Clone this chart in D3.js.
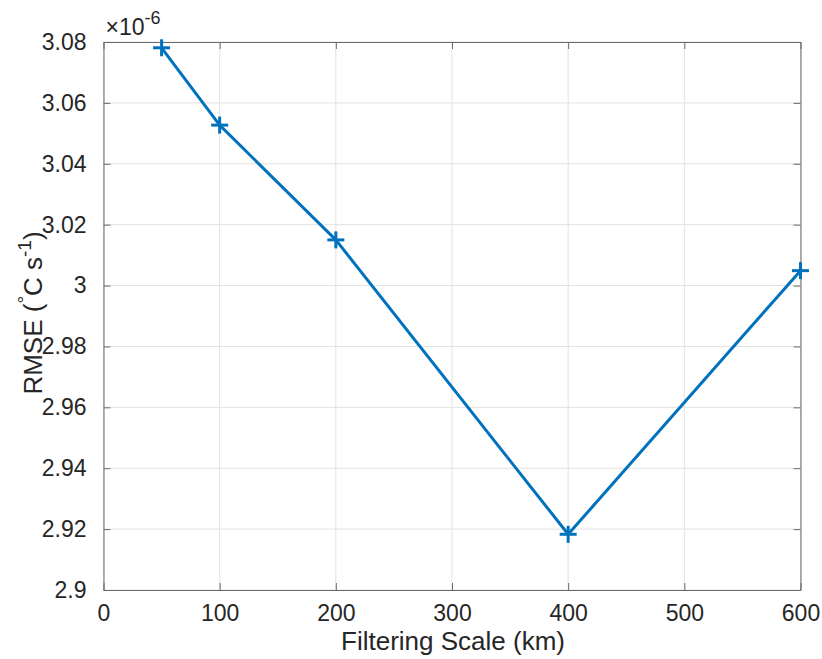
<!DOCTYPE html>
<html>
<head>
<meta charset="utf-8">
<script src="https://d3js.org/d3.v7.min.js"></script>
<style>
  html, body { margin: 0; padding: 0; background: #fff; }
  svg { display: block; }
  text { font-family: "Liberation Sans", Arial, Helvetica, sans-serif; fill: #262626; }
</style>
</head>
<body>
<svg id="chart" width="822" height="659"></svg>
<script>
// Data (RMSE in units of 1e-6 °C s^-1)
const filteringScale = [50, 100, 200, 400, 600];
const rmse = [3.0781, 3.0527, 3.0150, 2.9183, 3.0049];
const xTicks = [0, 100, 200, 300, 400, 500, 600];
const yTicks = [2.90, 2.92, 2.94, 2.96, 2.98, 3.00, 3.02, 3.04, 3.06, 3.08];
const yTickLabels = ["2.9", "2.92", "2.94", "2.96", "2.98", "3", "3.02", "3.04", "3.06", "3.08"];
const xLabel = "Filtering Scale (km)";

(function () {
const W = 822, H = 659;
const mLeft = 103.5, mRight = 800.5, mTop = 42, mBottom = 590;
const lineColor = "#0072BD";

const svg = d3.select("#chart");
svg.append("rect").attr("width", W).attr("height", H).attr("fill", "#fff");

const x = d3.scaleLinear().domain([0, 600]).range([mLeft, mRight]);
const y = d3.scaleLinear().domain([2.9, 3.08]).range([mBottom, mTop]);

// grid
const grid = svg.append("g").attr("stroke", "#e2e2e2").attr("stroke-width", 1);
xTicks.forEach(t => {
  grid.append("line").attr("x1", x(t)).attr("x2", x(t)).attr("y1", mTop).attr("y2", mBottom);
});
yTicks.forEach(t => {
  grid.append("line").attr("x1", mLeft).attr("x2", mRight).attr("y1", y(t)).attr("y2", y(t));
});

// axes with inward ticks on all sides
const tickLen = 7;
const axisColor = "#6a6a6a";
const xAxisB = d3.axisBottom(x).tickValues(xTicks).tickSizeInner(-tickLen).tickSizeOuter(0).tickPadding(15).tickFormat(d3.format("d"));
const xAxisT = d3.axisTop(x).tickValues(xTicks).tickSizeInner(-tickLen).tickSizeOuter(0).tickFormat("");
const yAxisL = d3.axisLeft(y).tickValues(yTicks).tickSizeInner(-tickLen).tickSizeOuter(0).tickPadding(17)
  .tickFormat((d, i) => yTickLabels[i]);
const yAxisR = d3.axisRight(y).tickValues(yTicks).tickSizeInner(-tickLen).tickSizeOuter(0).tickFormat("");

function style(g) {
  g.selectAll(".domain").attr("stroke", axisColor).attr("stroke-width", 1);
  g.selectAll(".tick line").attr("stroke", axisColor).attr("stroke-width", 1);
  g.selectAll(".tick text").attr("fill", "#262626").style("font-size", "23px")
    .style("font-family", '"Liberation Sans", Arial, sans-serif');
}
svg.append("g").attr("transform", `translate(0,${mBottom})`).call(xAxisB).call(style);
svg.append("g").attr("transform", `translate(0,${mTop})`).call(xAxisT).call(style);
svg.append("g").attr("transform", `translate(${mLeft},0)`).call(yAxisL).call(style);
svg.append("g").attr("transform", `translate(${mRight},0)`).call(yAxisR).call(style);

// line
const line = d3.line().x((d, i) => x(filteringScale[i])).y(d => y(d));
svg.append("path").datum(rmse).attr("d", line)
  .attr("fill", "none").attr("stroke", lineColor).attr("stroke-width", 3)
  .attr("stroke-linejoin", "round");

// + markers
const m = 8.5;
const mk = svg.append("g").attr("stroke", lineColor).attr("stroke-width", 3);
rmse.forEach((v, i) => {
  const cx = x(filteringScale[i]), cy = y(v);
  mk.append("line").attr("x1", cx - m).attr("x2", cx + m).attr("y1", cy).attr("y2", cy);
  mk.append("line").attr("x1", cx).attr("x2", cx).attr("y1", cy - m).attr("y2", cy + m);
});

// x label
svg.append("text").attr("x", (mLeft + mRight) / 2 + 1).attr("y", 650)
  .attr("text-anchor", "middle").style("font-size", "26px").text(xLabel);

// y label
const yl = svg.append("text")
  .attr("transform", `translate(42,${(mTop + mBottom) / 2 - 3}) rotate(-90)`)
  .attr("text-anchor", "middle").style("font-size", "26px");
yl.append("tspan").text("RMSE (");
yl.append("tspan").attr("dy", -11).style("font-size", "19px").text("°");
yl.append("tspan").attr("dy", 11).text("C s");
yl.append("tspan").attr("dy", -11).style("font-size", "19px").text("-1");
yl.append("tspan").attr("dy", 11).text(")");

// exponent multiplier
const ex = svg.append("text").attr("x", mLeft + 2).attr("y", 35).style("font-size", "23px");
ex.append("tspan").text("×10");
ex.append("tspan").attr("dy", -11).style("font-size", "18px").text("-6");
})();
</script>
</body>
</html>
